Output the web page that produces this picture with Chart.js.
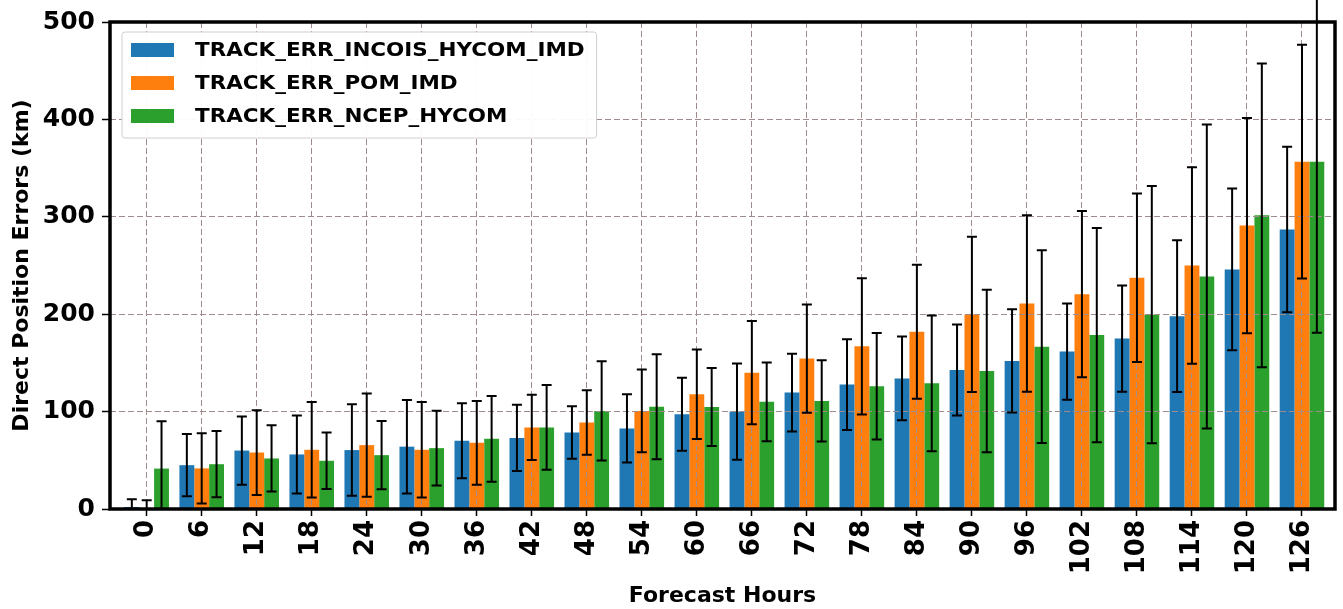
<!DOCTYPE html>
<html>
<head>
<meta charset="utf-8">
<script src="https://cdn.jsdelivr.net/npm/chart.js@4.4.0/dist/chart.umd.min.js"></script>
<style>
  html, body { margin: 0; padding: 0; background: #fff; }
  #wrap { width: 1343px; height: 609px; position: relative; }
</style>
</head>
<body>
<div id="wrap"><canvas id="chart"></canvas></div>
<script>
// forecast lead times (x categories)
const hours = [0, 6, 12, 18, 24, 30, 36, 42, 48, 54, 60, 66, 72, 78, 84, 90, 96, 102, 108, 114, 120, 126];
const yTicks = [0, 100, 200, 300, 400, 500];

const seriesNames = ['TRACK_ERR_INCOIS_HYCOM_IMD', 'TRACK_ERR_POM_IMD', 'TRACK_ERR_NCEP_HYCOM'];
const seriesColors = ['#1f77b4', '#ff7f0e', '#2ca02c'];

// mean errors (km) and +/- spread
const incoisMean = [2, 45, 60, 56, 60.5, 64, 70, 73, 78.6, 82.7, 97.3, 100, 119.5, 127.7, 134, 142.7, 152, 161.6, 175, 198, 246, 287];
const incoisErr  = [8, 32, 35, 40, 47, 48, 38.5, 34, 27, 35, 37.5, 49.5, 40, 46.5, 43, 46.6, 53, 49.4, 54.5, 78, 83, 85];
const pomMean = [1, 41.7, 58, 60.8, 65.6, 60.8, 68, 83.7, 88.8, 100.7, 117.8, 140, 154.4, 167, 182, 199.8, 211, 220.6, 237.4, 250, 291, 356.6];
const pomErr  = [8, 36, 43.5, 49, 53, 49, 43, 33.5, 33, 42.5, 46, 53, 55.6, 70, 68.7, 79.7, 90.5, 85.4, 86.6, 101, 110.5, 120];
const ncepMean = [41.5, 46, 51.9, 49.5, 55.3, 62.5, 72, 83.7, 100.7, 105, 104.8, 110, 111, 126, 129, 141.7, 166.7, 178.6, 199.5, 238.7, 301.5, 356.6];
const ncepErr  = [48.5, 34, 34, 29, 35, 38.5, 44, 43.5, 51, 54, 40, 40.5, 41.6, 54.7, 69.7, 83.4, 99, 110, 132, 156, 156, 175.6];

const means = [incoisMean, pomMean, ncepMean];
const errs = [incoisErr, pomErr, ncepErr];

const FONT = "'DejaVu Sans', sans-serif";
const gridColor = '#a08c8c';

// error bars: vertical line + caps, through the y scale (drawn above the grid)
const errorBars = {
  id: 'errorBars',
  afterDraw(chart) {
    const ctx = chart.ctx;
    const y = chart.scales.y;
    const area = chart.chartArea;
    ctx.save();
    ctx.beginPath();
    ctx.rect(0, 0, chart.width, area.bottom);
    ctx.clip();
    ctx.strokeStyle = '#000';
    ctx.lineWidth = 2;
    chart.data.datasets.forEach((ds, i) => {
      const meta = chart.getDatasetMeta(i);
      meta.data.forEach((bar, j) => {
        const v = ds.data[j].y, e = ds.errors[j];
        const top = y.getPixelForValue(v + e);
        const bot = y.getPixelForValue(v - e);
        ctx.beginPath();
        ctx.moveTo(bar.x, top); ctx.lineTo(bar.x, bot);
        ctx.moveTo(bar.x - 5, top); ctx.lineTo(bar.x + 5, top);
        ctx.moveTo(bar.x - 5, bot); ctx.lineTo(bar.x + 5, bot);
        ctx.stroke();
      });
    });
    ctx.restore();
  }
};

// axes frame + legend box in the upper-left corner
const frameAndLegend = {
  id: 'frameAndLegend',
  afterDraw(chart) {
    const ctx = chart.ctx;
    const a = chart.chartArea;
    ctx.save();
    ctx.strokeStyle = '#000';
    ctx.lineWidth = 3.5;
    ctx.strokeRect(a.left, a.top, a.right - a.left, a.bottom - a.top);

    const sx = 1.13;
    ctx.font = 'bold 19px ' + FONT;
    const widest = Math.max(...chart.data.datasets.map(d => ctx.measureText(d.label).width)) * sx;
    const bx = a.left + 12, by = a.top + 10;
    const bw = 73 + widest + 12, bh = 106;
    ctx.fillStyle = 'rgba(255,255,255,0.95)';
    ctx.strokeStyle = '#d0d0d0';
    ctx.lineWidth = 1;
    ctx.beginPath();
    ctx.roundRect(bx, by, bw, bh, 3);
    ctx.fill();
    ctx.stroke();

    chart.data.datasets.forEach((d, i) => {
      const cy = by + 18 + i * 33;
      ctx.fillStyle = d.backgroundColor;
      ctx.fillRect(bx + 9, cy - 7, 43, 14);
      ctx.fillStyle = '#000';
      ctx.textBaseline = 'middle';
      ctx.textAlign = 'left';
      ctx.save();
      ctx.translate(bx + 73, cy + 1);
      ctx.scale(sx, 1);
      ctx.fillText(d.label, 0, 0);
      ctx.restore();
    });
    ctx.restore();
  }
};

const datasets = seriesNames.map((name, i) => ({
  label: name,
  data: hours.map((h, j) => ({ x: h, y: means[i][j] })),
  errors: errs[i],
  backgroundColor: seriesColors[i],
  borderWidth: 0,
  categoryPercentage: 0.81,
  barPercentage: 1.0
}));

new Chart(document.getElementById('chart'), {
  type: 'bar',
  data: { datasets },
  plugins: [errorBars, frameAndLegend],
  options: {
    responsive: true,
    maintainAspectRatio: false,
    animation: false,
    layout: { padding: { left: 0, right: 8, top: 22, bottom: 0 } },
    plugins: { legend: { display: false }, tooltip: { enabled: false } },
    scales: {
      x: {
        type: 'linear',
        min: -4,
        max: 129.6,
        offset: false,
        afterBuildTicks: s => { s.ticks = hours.map(v => ({ value: v })); },
        afterFit: s => { s.height = 100; },
        ticks: {
          autoSkip: false, maxRotation: 90, minRotation: 90,
          color: '#000', padding: 4,
          font: { family: FONT, size: 26, weight: 'bold' }
        },
        grid: {
          offset: false, color: gridColor, lineWidth: 1, z: 1,
          tickColor: '#000', tickWidth: 1.5, tickLength: 7
        },
        border: { display: false, dash: [6, 3] },
        title: {
          display: true, text: 'Forecast Hours', color: '#000',
          font: { family: FONT, size: 22, weight: 'bold' },
          padding: { top: 0, bottom: 0 }
        }
      },
      y: {
        min: 0,
        max: 500,
        afterBuildTicks: s => { s.ticks = yTicks.map(v => ({ value: v })); },
        afterFit: s => { s.width = 110; },
        ticks: {
          color: '#000', padding: 7,
          font: { family: FONT, size: 25, weight: 'bold' }
        },
        grid: {
          color: gridColor, lineWidth: 1, z: 1,
          tickColor: '#000', tickWidth: 1.5, tickLength: 8
        },
        border: { display: false, dash: [6, 3] },
        title: {
          display: true, text: 'Direct Position Errors (km)', color: '#000',
          font: { family: FONT, size: 22, weight: 'bold' },
          padding: { top: 9, bottom: 0 }
        }
      }
    }
  }
});
</script>
</body>
</html>
